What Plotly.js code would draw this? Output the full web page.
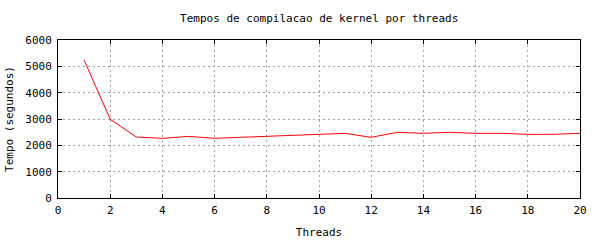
<!DOCTYPE html>
<html>
<head>
<meta charset="utf-8">
<script src="https://cdn.plot.ly/plotly-3.0.1.min.js"></script>
<style>html,body{margin:0;padding:0;background:#fff;}#chart{width:600px;height:240px;}</style>
</head>
<body>
<div id="chart"></div>
<script>
const threads = [1,2,3,4,5,6,7,8,9,10,11,12,13,14,15,16,17,18,19,20];
const tempos = [5240,2990,2317,2266,2340,2266,2304,2342,2380,2418,2456,2304,2494,2456,2494,2456,2456,2418,2418,2456];
const xTicks = [0,2,4,6,8,10,12,14,16,18,20];
const yTicks = [0,1000,2000,3000,4000,5000,6000];
const font = {family:'DejaVu Sans Mono, monospace', size:11, color:'#000'};
const axisCommon = {
  showline:true, linecolor:'#000', linewidth:1, mirror:'ticks',
  ticks:'inside', ticklen:4, tickcolor:'#000',
  showgrid:true, gridcolor:'#a0a0a0', griddash:'2px,3px', gridwidth:1,
  zeroline:false, tickfont:font, fixedrange:true
};
Plotly.newPlot('chart', [{
  x: threads, y: tempos, type:'scatter', mode:'lines',
  line:{color:'#ff0000', width:1}, hoverinfo:'skip'
}], {
  width:600, height:240,
  margin:{l:58, r:20, t:40, b:42},
  paper_bgcolor:'#fff', plot_bgcolor:'#fff',
  font:font, showlegend:false,
  title:{text:'Tempos de compilacao de kernel por threads', font:font, x:0.532, xanchor:'center', y:0.925, yanchor:'middle'},
  xaxis:Object.assign({}, axisCommon, {range:[0,20], tickvals:xTicks, ticktext:xTicks.map(String),
    ticklabelstandoff:2,
    title:{text:'Threads', font:font, standoff:12}}),
  yaxis:Object.assign({}, axisCommon, {range:[0,6000], tickvals:yTicks, ticktext:yTicks.map(String),
    ticklabelstandoff:3,
    title:{text:'Tempo (segundos)', font:font, standoff:9}})
}, {staticPlot:true, displayModeBar:false});
</script>
</body>
</html>
